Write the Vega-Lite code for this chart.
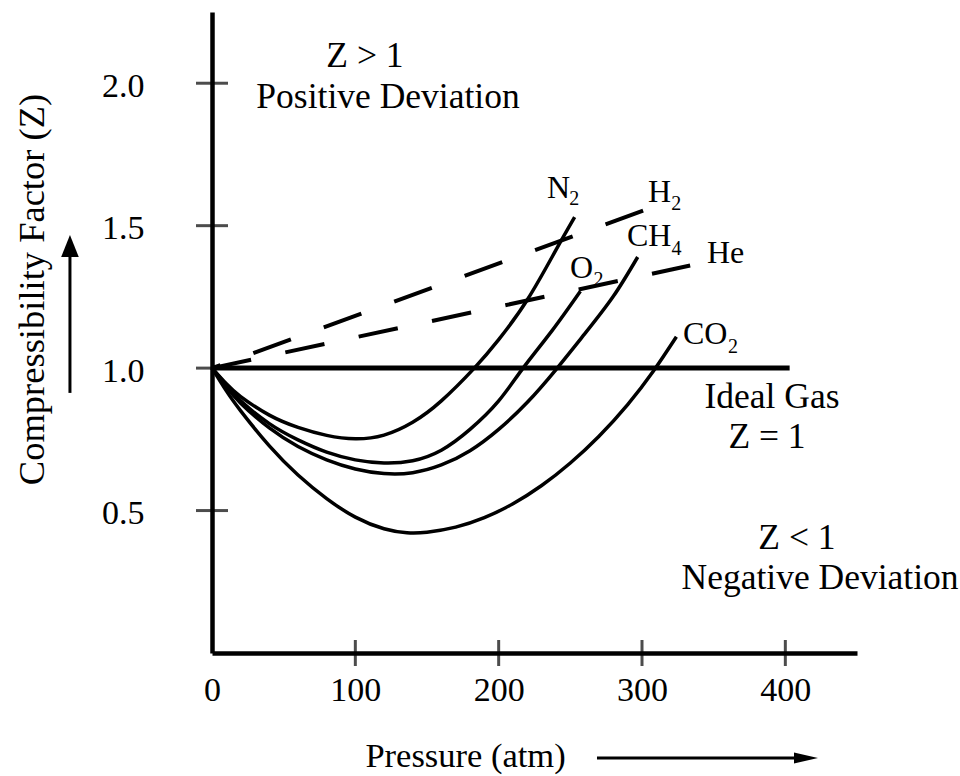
{
  "$schema": "https://vega.github.io/schema/vega-lite/v6.json",
  "width": 645,
  "height": 641,
  "autosize": {"type": "none"},
  "padding": {"left": 212, "top": 12, "right": 103, "bottom": 123},
  "background": "white",
  "config": {"view": {"stroke": null}, "font": "Liberation Serif"},
  "datasets": {
    "curves": [
      {"gas": "N2", "p": 0, "z": 1.0}, {"gas": "N2", "p": 10, "z": 0.945}, {"gas": "N2", "p": 20, "z": 0.9}, {"gas": "N2", "p": 40, "z": 0.835}, {"gas": "N2", "p": 60, "z": 0.792}, {"gas": "N2", "p": 80, "z": 0.764}, {"gas": "N2", "p": 100, "z": 0.752}, {"gas": "N2", "p": 120, "z": 0.765}, {"gas": "N2", "p": 140, "z": 0.81}, {"gas": "N2", "p": 160, "z": 0.885}, {"gas": "N2", "p": 183, "z": 1.0}, {"gas": "N2", "p": 200, "z": 1.1}, {"gas": "N2", "p": 220, "z": 1.24}, {"gas": "N2", "p": 240, "z": 1.415}, {"gas": "N2", "p": 253, "z": 1.53},
      {"gas": "O2", "p": 0, "z": 1.0}, {"gas": "O2", "p": 10, "z": 0.94}, {"gas": "O2", "p": 20, "z": 0.885}, {"gas": "O2", "p": 40, "z": 0.805}, {"gas": "O2", "p": 60, "z": 0.748}, {"gas": "O2", "p": 80, "z": 0.705}, {"gas": "O2", "p": 100, "z": 0.678}, {"gas": "O2", "p": 120, "z": 0.667}, {"gas": "O2", "p": 140, "z": 0.675}, {"gas": "O2", "p": 160, "z": 0.712}, {"gas": "O2", "p": 180, "z": 0.785}, {"gas": "O2", "p": 200, "z": 0.885}, {"gas": "O2", "p": 217, "z": 1.0}, {"gas": "O2", "p": 237, "z": 1.13}, {"gas": "O2", "p": 257, "z": 1.27},
      {"gas": "CH4", "p": 0, "z": 1.0}, {"gas": "CH4", "p": 10, "z": 0.935}, {"gas": "CH4", "p": 20, "z": 0.877}, {"gas": "CH4", "p": 40, "z": 0.79}, {"gas": "CH4", "p": 60, "z": 0.725}, {"gas": "CH4", "p": 80, "z": 0.678}, {"gas": "CH4", "p": 100, "z": 0.646}, {"gas": "CH4", "p": 120, "z": 0.63}, {"gas": "CH4", "p": 140, "z": 0.633}, {"gas": "CH4", "p": 160, "z": 0.66}, {"gas": "CH4", "p": 180, "z": 0.71}, {"gas": "CH4", "p": 200, "z": 0.785}, {"gas": "CH4", "p": 220, "z": 0.88}, {"gas": "CH4", "p": 240, "z": 0.995}, {"gas": "CH4", "p": 260, "z": 1.12}, {"gas": "CH4", "p": 280, "z": 1.252}, {"gas": "CH4", "p": 297, "z": 1.39},
      {"gas": "CO2", "p": 0, "z": 1.0}, {"gas": "CO2", "p": 10, "z": 0.92}, {"gas": "CO2", "p": 20, "z": 0.85}, {"gas": "CO2", "p": 40, "z": 0.727}, {"gas": "CO2", "p": 60, "z": 0.625}, {"gas": "CO2", "p": 80, "z": 0.542}, {"gas": "CO2", "p": 100, "z": 0.477}, {"gas": "CO2", "p": 120, "z": 0.436}, {"gas": "CO2", "p": 136, "z": 0.422}, {"gas": "CO2", "p": 150, "z": 0.424}, {"gas": "CO2", "p": 170, "z": 0.442}, {"gas": "CO2", "p": 190, "z": 0.475}, {"gas": "CO2", "p": 210, "z": 0.524}, {"gas": "CO2", "p": 230, "z": 0.588}, {"gas": "CO2", "p": 250, "z": 0.667}, {"gas": "CO2", "p": 270, "z": 0.761}, {"gas": "CO2", "p": 290, "z": 0.872}, {"gas": "CO2", "p": 308, "z": 0.99}, {"gas": "CO2", "p": 324, "z": 1.11}
    ],
    "h2": [{"p": 0, "z": 1.0}, {"p": 300.8, "z": 1.553}],
    "he": [{"p": 0, "z": 1.0}, {"p": 333.6, "z": 1.36}],
    "ideal": [{"p": 0, "p2": 403, "z": 1.0}],
    "xticks": [{"p": 100, "z": 0}, {"p": 200, "z": 0}, {"p": 300, "z": 0}, {"p": 400, "z": 0}],
    "yticks": [{"p": 0, "z": 0.5}, {"p": 0, "z": 1.0}, {"p": 0, "z": 1.5}, {"p": 0, "z": 2.0}],
    "notes": [
      {"p": 106.7, "z": 2.095, "label": "Z > 1"},
      {"p": 122.8, "z": 1.952, "label": "Positive Deviation"},
      {"p": 390.7, "z": 0.899, "label": "Ideal Gas"},
      {"p": 387.2, "z": 0.758, "label": "Z = 1"},
      {"p": 408.1, "z": 0.404, "label": "Z < 1"},
      {"p": 424.2, "z": 0.263, "label": "Negative Deviation"}
    ],
    "gaslabels": [
      {"p": 233.7, "z": 1.632, "label": "N"},
      {"p": 304.2, "z": 1.618, "label": "H"},
      {"p": 289.5, "z": 1.464, "label": "CH"},
      {"p": 249.8, "z": 1.351, "label": "O"},
      {"p": 328.6, "z": 1.12, "label": "CO"},
      {"p": 345.3, "z": 1.404, "label": "He"}
    ],
    "subs": [
      {"p": 249.3, "z": 1.594, "label": "2"},
      {"p": 320.4, "z": 1.576, "label": "2"},
      {"p": 320.6, "z": 1.418, "label": "4"},
      {"p": 266.2, "z": 1.309, "label": "2"},
      {"p": 360.0, "z": 1.074, "label": "2"}
    ],
    "arrows": [
      {"p": -99.1, "p2": -99.1, "z": 0.913, "z2": 1.43},
      {"p": 268.6, "p2": 410, "z": -0.3686, "z2": -0.3686}
    ],
    "uphead": [{"p": -99.1, "z": 1.4286}],
    "righthead": [{"p": 414.4, "z": -0.3686}]
  },
  "encoding": {
    "x": {
      "field": "p", "type": "quantitative",
      "scale": {"domain": [0, 450], "nice": false, "zero": false},
      "axis": {
        "values": [0, 100, 200, 300, 400], "format": "d",
        "labelFont": "Liberation Serif", "labelFontSize": 34, "labelColor": "#000",
        "labelPadding": 20, "labelFlush": false, "labelOverlap": false,
        "ticks": false, "tickSize": 0, "grid": false,
        "domainColor": "#000", "domainWidth": 4.5,
        "title": "Pressure (atm)", "titleFont": "Liberation Serif", "titleFontSize": 34.5,
        "titleFontWeight": "normal", "titleColor": "#000",
        "titleX": 253, "titleY": 103, "titleBaseline": "middle", "titleAlign": "center"
      }
    },
    "y": {
      "field": "z", "type": "quantitative",
      "scale": {"domain": [0, 2.25], "nice": false, "zero": false},
      "axis": {
        "values": [0.5, 1.0, 1.5, 2.0], "format": ".1f",
        "labelFont": "Liberation Serif", "labelFontSize": 34, "labelColor": "#000",
        "labelPadding": 68, "labelOffset": 3, "labelOverlap": false,
        "ticks": false, "tickSize": 0, "grid": false,
        "domainColor": "#000", "domainWidth": 4.5,
        "title": "Compressibility Factor (Z)", "titleFont": "Liberation Serif", "titleFontSize": 36.5,
        "titleFontWeight": "normal", "titleColor": "#000",
        "titleAngle": 270, "titleX": -180, "titleY": 277, "titleBaseline": "middle", "titleAlign": "center"
      }
    }
  },
  "layer": [
    {"data": {"name": "ideal"}, "mark": {"type": "rule", "color": "#000", "strokeWidth": 5}, "encoding": {"x2": {"field": "p2"}}},
    {"data": {"name": "curves"}, "mark": {"type": "line", "color": "#000", "strokeWidth": 3.5, "interpolate": "natural"}, "encoding": {"detail": {"field": "gas"}}},
    {"data": {"name": "h2"}, "mark": {"type": "line", "color": "#000", "strokeWidth": 4, "strokeDash": [40, 35], "strokeDashOffset": 31, "strokeCap": "butt"}, "encoding": {}},
    {"data": {"name": "he"}, "mark": {"type": "line", "color": "#000", "strokeWidth": 4, "strokeDash": [40, 35], "strokeCap": "butt"}, "encoding": {}},
    {"data": {"name": "xticks"}, "mark": {"type": "tick", "orient": "vertical", "color": "#000", "size": 26, "thickness": 3}},
    {"data": {"name": "yticks"}, "mark": {"type": "tick", "orient": "horizontal", "color": "#000", "size": 32, "thickness": 3}},
    {"data": {"name": "notes"}, "mark": {"type": "text", "font": "Liberation Serif", "fontSize": 35.5, "align": "center", "baseline": "middle", "color": "#000"}, "encoding": {"text": {"field": "label"}}},
    {"data": {"name": "gaslabels"}, "mark": {"type": "text", "font": "Liberation Serif", "fontSize": 32, "align": "left", "baseline": "middle", "color": "#000"}, "encoding": {"text": {"field": "label"}}},
    {"data": {"name": "subs"}, "mark": {"type": "text", "font": "Liberation Serif", "fontSize": 20, "align": "left", "baseline": "middle", "color": "#000"}, "encoding": {"text": {"field": "label"}}},
    {"data": {"name": "arrows"}, "mark": {"type": "rule", "color": "#000", "strokeWidth": 3}, "encoding": {"x2": {"field": "p2"}, "y2": {"field": "z2"}}},
    {"data": {"name": "uphead"}, "mark": {"type": "point", "shape": "M0,-1L0.8,1L-0.8,1Z", "size": 484, "filled": true, "color": "#000", "opacity": 1}},
    {"data": {"name": "righthead"}, "mark": {"type": "point", "shape": "M1,0L-1,-0.45L-1,0.45Z", "size": 576, "filled": true, "color": "#000", "opacity": 1}}
  ]
}
